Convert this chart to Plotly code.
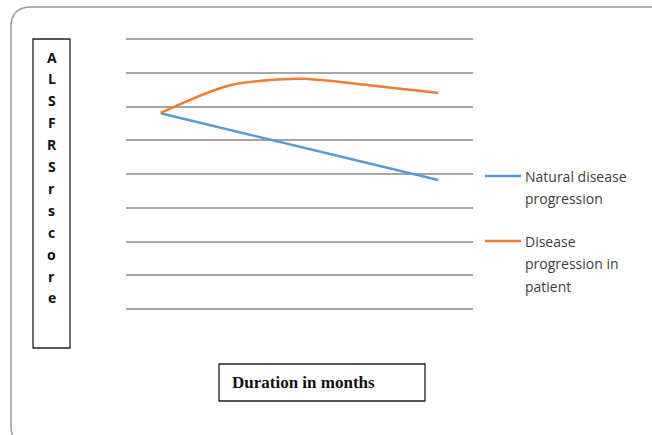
import plotly.graph_objects as go

months = ["1", "2", "3", "4", "5"]
natural = [5.8, 5.31, 4.81, 4.32, 3.82]
patient = [5.81, 6.63, 6.82, 6.63, 6.4]
series_names = ["Natural disease<br>progression", "Disease<br>progression in<br>patient"]
series_colors = ["#5B9BD5", "#ED7D31"]
y_title_letters = list("ALSFRSrscore")
x_title = "Duration in months"

W, H = 652, 435
PADPX = 6
L, R, T, B = 126, 473, 39 - PADPX, 309 + PADPX   # plot area in px (pad so edge gridlines show)
step = 270 / 8.0
ypad = PADPX / step

def X(px):
    return (px - L) / (R - L)

def Y(py):
    return (B - py) / (B - T)

fig = go.Figure()
fig.add_trace(go.Scatter(x=months, y=natural, mode="lines", name=series_names[0],
                         line=dict(color=series_colors[0], width=2.5)))
fig.add_trace(go.Scatter(x=months, y=patient, mode="lines", name=series_names[1],
                         line=dict(color=series_colors[1], width=2.5, shape="spline", smoothing=0.8)))

# outer rounded border
l0, t0, r0, b0, rad = 11, 7, 700, 446, 20
rx, ry = rad / (R - L), rad / (B - T)
path = (f"M {X(l0)+rx} {Y(t0)} L {X(r0)-rx} {Y(t0)} Q {X(r0)} {Y(t0)} {X(r0)} {Y(t0)-ry} "
        f"L {X(r0)} {Y(b0)+ry} Q {X(r0)} {Y(b0)} {X(r0)-rx} {Y(b0)} "
        f"L {X(l0)+rx} {Y(b0)} Q {X(l0)} {Y(b0)} {X(l0)} {Y(b0)+ry} "
        f"L {X(l0)} {Y(t0)-ry} Q {X(l0)} {Y(t0)} {X(l0)+rx} {Y(t0)} Z")
shapes = [
    dict(type="path", xref="paper", yref="paper", path=path,
         line=dict(color="#9a9a9a", width=1.5), fillcolor="rgba(0,0,0,0)", layer="below"),
    dict(type="rect", xref="paper", yref="paper", x0=X(33), x1=X(70), y0=Y(39), y1=Y(348),
         line=dict(color="#222", width=1.3)),
    dict(type="rect", xref="paper", yref="paper", x0=X(219), x1=X(425), y0=Y(364), y1=Y(401),
         line=dict(color="#222", width=1.3)),
]

annotations = []
for i, ch in enumerate(y_title_letters):
    annotations.append(dict(text=f"<b>{ch}</b>", xref="paper", yref="paper",
                            x=X(51.5), y=Y(57 + i * 21.9), xanchor="center", yanchor="middle",
                            showarrow=False,
                            font=dict(family="Open Sans", size=14, color="#111")))
annotations.append(dict(text=f"<b>{x_title}</b>", xref="paper", yref="paper",
                        x=X(230), y=Y(382), xanchor="left", yanchor="middle", showarrow=False,
                        font=dict(family="Liberation Serif", size=17, color="#111")))

# manual legend (Excel-like spacing)
legend_tops = [176, 241]
line_gap = 22.5
for name, color, top in zip(series_names, series_colors, legend_tops):
    shapes.append(dict(type="line", xref="paper", yref="paper",
                       x0=X(485), x1=X(521), y0=Y(top), y1=Y(top),
                       line=dict(color=color, width=2.5)))
    for j, part in enumerate(name.split("<br>")):
        annotations.append(dict(text=part, xref="paper", yref="paper",
                                x=X(523), y=Y(top + j * line_gap), xanchor="left",
                                yanchor="middle", showarrow=False,
                                font=dict(family="Open Sans", size=14, color="#404040")))

fig.update_layout(
    width=W, height=H,
    margin=dict(l=L, r=W - R, t=T, b=H - B, pad=0),
    paper_bgcolor="white", plot_bgcolor="white",
    shapes=shapes, annotations=annotations,
    showlegend=False,
    xaxis=dict(showgrid=False, showticklabels=False, ticks="", showline=False,
               zeroline=False, range=[-0.5, 4.5]),
    yaxis=dict(range=[-ypad, 8 + ypad], tickmode="linear", tick0=0, dtick=1,
               showgrid=True, gridcolor="#a6a6a6",
               gridwidth=1.5, showticklabels=False, ticks="", zeroline=False, showline=False),
)

fig.write_html("out.html")
